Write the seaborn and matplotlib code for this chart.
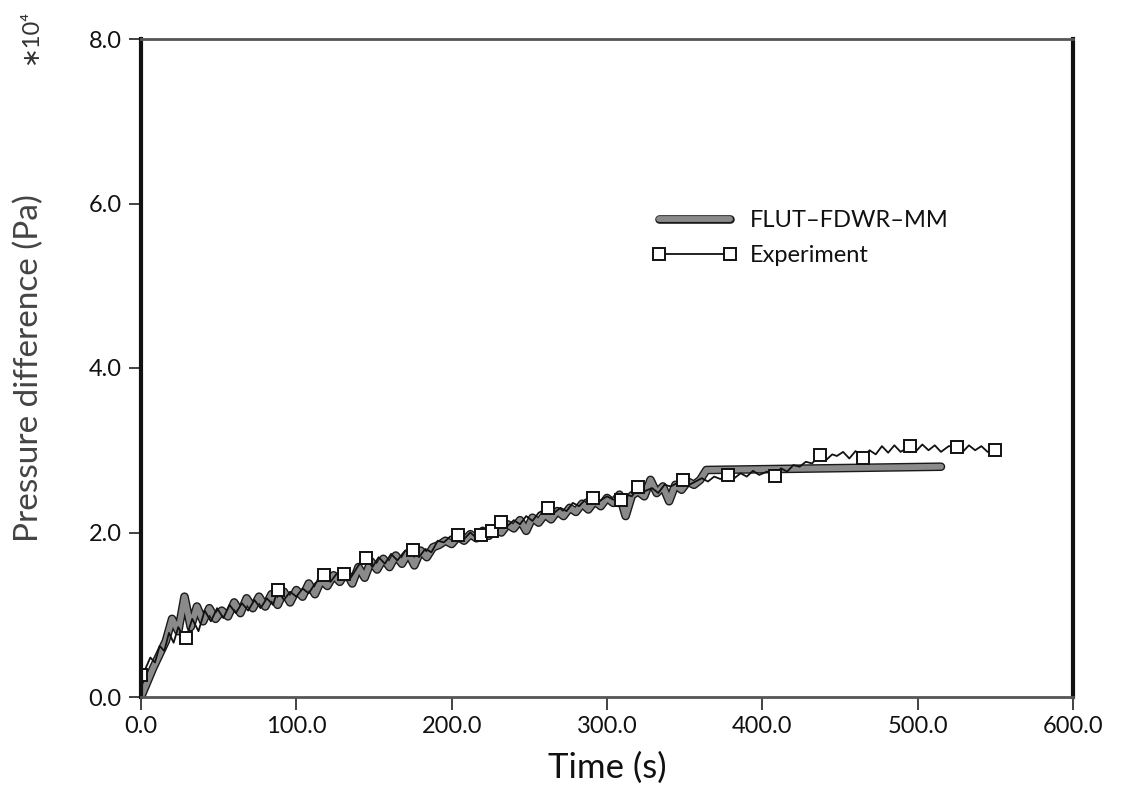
import matplotlib
matplotlib.use("Agg")
import matplotlib.pyplot as plt
import matplotlib.patheffects as pe
import seaborn as sns
import pandas as pd

# ---------------- data (pressure in units of 1e4 Pa) ----------------
sim_time = [0, 4, 8, 12, 16, 20, 24, 28, 32, 36, 40, 44, 48, 52, 56, 60, 64, 68, 72, 76,
            80, 84, 88, 92, 96, 100, 104, 108, 112, 116, 120, 124, 128, 132, 136, 140,
            144, 148, 152, 156, 160, 164, 168, 172, 176, 180, 184, 188, 192, 196, 200,
            204, 208, 212, 216, 220, 224, 228, 232, 236, 240, 244, 248, 252, 256, 260,
            264, 268, 272, 276, 280, 284, 288, 292, 296, 300, 304, 308, 312, 316, 320,
            324, 328, 332, 336, 340, 344, 348, 352, 356, 360, 364, 515]
sim_dp = [0.00, 0.18, 0.36, 0.52, 0.68, 0.95, 0.80, 1.22, 0.85, 1.10, 0.92, 1.08, 0.95,
          1.05, 0.98, 1.15, 1.02, 1.20, 1.08, 1.22, 1.10, 1.25, 1.12, 1.28, 1.15, 1.30,
          1.22, 1.38, 1.25, 1.42, 1.35, 1.48, 1.40, 1.52, 1.38, 1.58, 1.45, 1.65, 1.55,
          1.68, 1.58, 1.72, 1.62, 1.75, 1.60, 1.78, 1.70, 1.82, 1.85, 1.90, 1.86, 1.95,
          1.90, 1.98, 1.93, 2.02, 1.96, 2.05, 2.00, 2.10, 2.05, 2.15, 2.02, 2.18, 2.12,
          2.22, 2.16, 2.26, 2.20, 2.30, 2.25, 2.35, 2.28, 2.38, 2.32, 2.42, 2.36, 2.46,
          2.20, 2.45, 2.50, 2.44, 2.64, 2.48, 2.56, 2.38, 2.58, 2.52, 2.62, 2.58, 2.64,
          2.76, 2.80]

exp_time = [0, 3, 6, 9, 12, 15, 18, 21, 24, 27, 29, 33, 37, 41, 45, 49, 53, 57, 61, 65,
            69, 73, 77, 81, 85, 88, 92, 96, 100, 104, 108, 112, 118, 122, 126, 131, 135,
            140, 145, 149, 153, 157, 161, 165, 170, 175, 179, 183, 187, 191, 195, 199,
            204, 208, 212, 215, 219, 222, 226, 229, 232, 236, 240, 244, 248, 252, 256,
            262, 266, 270, 274, 278, 282, 286, 291, 295, 300, 304, 309, 313, 316, 320,
            324, 329, 333, 337, 341, 345, 349, 353, 357, 361, 365, 369, 373, 378, 382,
            386, 390, 394, 398, 403, 408, 412, 416, 420, 424, 428, 432, 437, 441, 445,
            448, 452, 456, 460, 465, 469, 473, 477, 481, 485, 489, 495, 499, 503, 507,
            511, 515, 520, 525, 529, 533, 537, 541, 545, 550]
exp_dp = [0.27, 0.35, 0.48, 0.42, 0.62, 0.56, 0.78, 0.66, 0.85, 0.74, 0.72, 0.95, 0.80,
          1.05, 0.92, 1.08, 0.96, 1.12, 1.02, 1.14, 1.05, 1.18, 1.08, 1.20, 1.12, 1.30,
          1.18, 1.28, 1.22, 1.32, 1.26, 1.38, 1.48, 1.40, 1.50, 1.50, 1.45, 1.60, 1.69,
          1.58, 1.70, 1.62, 1.74, 1.66, 1.78, 1.79, 1.70, 1.80, 1.76, 1.90, 1.88, 1.95,
          1.97, 1.92, 2.00, 1.95, 1.97, 1.94, 2.02, 2.05, 2.13, 2.08, 2.15, 2.10, 2.20,
          2.14, 2.24, 2.30, 2.24, 2.30, 2.26, 2.36, 2.32, 2.40, 2.42, 2.38, 2.44, 2.40,
          2.40, 2.46, 2.44, 2.55, 2.50, 2.54, 2.48, 2.58, 2.56, 2.60, 2.64, 2.58, 2.62,
          2.66, 2.62, 2.68, 2.65, 2.70, 2.66, 2.72, 2.68, 2.75, 2.70, 2.74, 2.69, 2.78,
          2.74, 2.82, 2.80, 2.86, 2.84, 2.94, 2.88, 2.95, 2.93, 2.98, 2.90, 2.99, 2.91,
          3.00, 2.95, 3.05, 2.97, 3.06, 2.98, 3.05, 2.99, 3.07, 3.00, 3.06, 2.98, 3.05,
          3.04, 2.98, 3.06, 3.00, 3.05, 2.98, 3.00]
exp_marker_time = [0, 29, 88, 118, 131, 145, 175, 204, 219, 226, 232, 262, 291, 309,
                   320, 349, 378, 408, 437, 465, 495, 525, 550]

x_ticks = [0, 100, 200, 300, 400, 500, 600]
x_tick_labels = ["0.0", "100.0", "200.0", "300.0", "400.0", "500.0", "600.0"]
y_ticks = [0, 2, 4, 6, 8]
y_tick_labels = ["0.0", "2.0", "4.0", "6.0", "8.0"]
series_labels = ["FLUT\u2013FDWR\u2013MM", "Experiment"]

# ---------------- style ----------------
sns.set_style("white")
plt.rcParams["font.family"] = ["Lato", "DejaVu Sans"]

fig = plt.figure(figsize=(11.22, 7.87), dpi=100)
ax = fig.add_axes([141 / 1122, 1 - 697 / 787, (1073 - 141) / 1122, (697 - 39) / 787])

sim_df = pd.DataFrame({"t": sim_time, "p": sim_dp})
exp_df = pd.DataFrame({"t": exp_time, "p": exp_dp})
marks = [exp_time.index(m) for m in exp_marker_time]

sns.lineplot(data=sim_df, x="t", y="p", ax=ax, sort=False, estimator=None,
             color="#8a8a8a", lw=4.2, label=series_labels[0],
             path_effects=[pe.Stroke(linewidth=6.2, foreground="#1a1a1a"), pe.Normal()])
sns.lineplot(data=exp_df, x="t", y="p", ax=ax, sort=False, estimator=None,
             color="#111111", lw=1.3, label=series_labels[1],
             marker="s", markevery=marks, markersize=8, markerfacecolor="white",
             markeredgecolor="#111111", markeredgewidth=1.4)

ax.set_xlim(0, 600)
ax.set_ylim(0, 8)
ax.set_xticks(x_ticks)
ax.set_xticklabels(x_tick_labels)
ax.set_yticks(y_ticks)
ax.set_yticklabels(y_tick_labels)
ax.tick_params(axis="both", direction="out", length=9, width=1.2, color="#222222",
               labelsize=17, labelcolor="#111111", pad=5)
ax.tick_params(axis="x", bottom=True, top=False)
ax.tick_params(axis="y", left=True, right=False)

for side in ["left", "right"]:
    ax.spines[side].set_color("#111111")
    ax.spines[side].set_linewidth(3.0)
for side in ["top", "bottom"]:
    ax.spines[side].set_color("#555555")
    ax.spines[side].set_linewidth(2.0)

ax.set_xlabel("Time (s)", fontsize=25, color="#111111", labelpad=10)
ax.set_ylabel("Pressure difference (Pa)", fontsize=24, color="#444444", labelpad=32)
fig.text(30 / 1122, 1 - 36 / 787, "\u221710\u2074", rotation=90, fontsize=17,
         ha="center", va="center", color="#333333")

leg = ax.legend(loc="upper left", bbox_to_anchor=(0.548, 0.74), frameon=False,
                fontsize=17, handlelength=3.6, handletextpad=0.55, labelspacing=0.6,
                borderpad=0, borderaxespad=0, numpoints=2)
for txt in leg.get_texts():
    txt.set_color("#111111")

fig.savefig("out.png", dpi=100)
